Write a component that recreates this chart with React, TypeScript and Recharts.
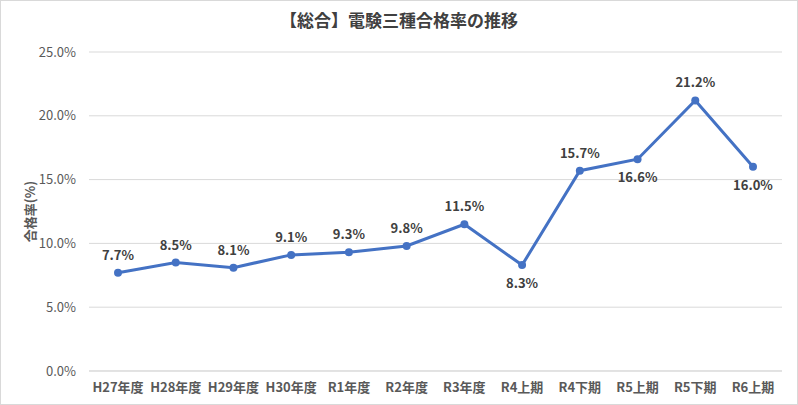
import React from 'react';
import { LineChart, Line, XAxis, YAxis, CartesianGrid, LabelList, Label } from 'recharts';

const categories = ['H27年度', 'H28年度', 'H29年度', 'H30年度', 'R1年度', 'R2年度', 'R3年度', 'R4上期', 'R4下期', 'R5上期', 'R5下期', 'R6上期'];
const passRates = [7.7, 8.5, 8.1, 9.1, 9.3, 9.8, 11.5, 8.3, 15.7, 16.6, 21.2, 16.0];
const yTicks = [0, 5, 10, 15, 20, 25];
// data labels drawn under the point instead of above
const labelsBelow = ['R4上期', 'R5上期', 'R6上期'];

const data = categories.map((name, i) => ({ name, rate: passRates[i] }));

const FONT = '"Noto Sans CJK JP", "Noto Sans", sans-serif';

const RateLabel = (props: any) => {
    const { x, y, value, index } = props;
    const below = labelsBelow.includes(categories[index]);
    return (
        <text
            x={x}
            y={below ? y + 23 : y - 13}
            textAnchor="middle"
            fill="#404040"
            fontSize={13}
            fontWeight={700}
            fontFamily={FONT}
        >
            {value.toFixed(1)}%
        </text>
    );
};

export default function App() {
    return (
        <div
            style={{
                position: 'fixed',
                left: 0,
                top: 0,
                width: 796,
                height: 403,
                border: '1px solid #d9d9d9',
                background: '#fff',
                fontFamily: FONT,
            }}
        >
            <div
                style={{
                    position: 'absolute',
                    top: 6,
                    left: 0,
                    width: 796,
                    textAlign: 'center',
                    fontSize: 17,
                    fontWeight: 700,
                    color: '#404040',
                }}
            >
                【総合】電験三種合格率の推移
            </div>
            <LineChart
                width={796}
                height={403}
                data={data}
                margin={{ top: 51, right: 15, bottom: 3, left: 0 }}
            >
                <CartesianGrid vertical={false} stroke="#d9d9d9" />
                <XAxis
                    dataKey="name"
                    height={30}
                    padding={{ left: 29, right: 29 }}
                    axisLine={{ stroke: '#d9d9d9' }}
                    tickLine={false}
                    tick={{ fill: '#595959', fontSize: 13, fontWeight: 700, fontFamily: FONT }}
                    tickMargin={6}
                    interval={0}
                />
                <YAxis
                    width={88}
                    domain={[0, 25]}
                    ticks={yTicks}
                    axisLine={false}
                    tickLine={false}
                    tickFormatter={(v: number) => `${v.toFixed(1)}%`}
                    tick={{ fill: '#595959', fontSize: 13, fontFamily: FONT }}
                    tickMargin={7}
                >
                    <Label
                        value="合格率(%)"
                        angle={-90}
                        position="insideLeft"
                        offset={29}
                        style={{ fill: '#595959', fontSize: 13, fontWeight: 700, fontFamily: FONT, textAnchor: 'middle' }}
                    />
                </YAxis>
                <Line
                    type="linear"
                    dataKey="rate"
                    stroke="#4472C4"
                    strokeWidth={3}
                    dot={{ r: 4, fill: '#4472C4', stroke: '#4472C4', strokeWidth: 0 }}
                    activeDot={false}
                    isAnimationActive={false}
                >
                    <LabelList dataKey="rate" content={RateLabel} />
                </Line>
            </LineChart>
        </div>
    );
}
